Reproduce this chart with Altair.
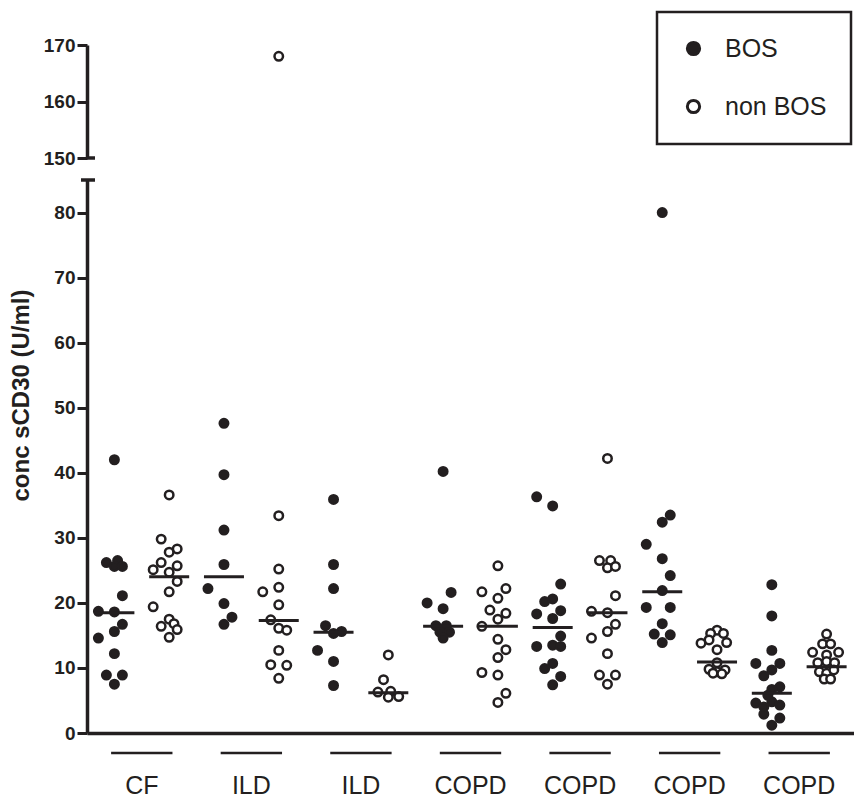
import altair as alt
import pandas as pd

INK = "#231f20"
FONT = "Liberation Sans"

# ---------------- data ----------------
groups = ["CF", "ILD", "ILD", "COPD", "COPD", "COPD", "COPD"]
status_names = ["BOS", "non BOS"]

# one list per column: col 2k = BOS (filled), col 2k+1 = non BOS (open)
values_by_col = [
    [42.0, 26.2, 26.5, 25.6, 25.6, 21.1, 18.7, 18.6, 16.7, 15.6, 14.6, 12.2, 8.9, 8.9, 7.5],
    [36.6, 29.8, 28.3, 27.8, 26.2, 25.7, 25.1, 24.7, 23.3, 21.7, 19.4, 17.5, 16.8, 16.4, 15.9, 14.7],
    [47.6, 39.7, 31.2, 25.9, 22.2, 19.9, 17.8, 16.7],
    [33.4, 25.2, 22.4, 21.7, 19.7, 17.4, 16.1, 15.8, 12.7, 10.5, 10.4, 8.4],
    [35.9, 25.9, 22.2, 16.5, 15.6, 15.3, 12.7, 11.0, 7.3],
    [12.0, 8.2, 6.3, 6.4, 5.5, 5.6],
    [40.2, 21.6, 20.0, 19.1, 16.5, 16.5, 15.5, 15.5, 14.6],
    [25.7, 22.2, 21.7, 20.7, 18.9, 18.4, 17.5, 16.4, 14.4, 12.8, 11.6, 9.3, 8.9, 6.1, 4.7],
    [36.3, 34.9, 22.9, 20.6, 20.2, 18.8, 18.3, 17.6, 14.9, 13.5, 13.3, 13.3, 10.7, 9.9, 8.7, 7.4],
    [42.2, 26.5, 26.5, 25.4, 25.6, 21.1, 18.7, 18.5, 16.7, 15.6, 14.6, 12.2, 8.9, 8.9, 7.5],
    [80.0, 33.5, 32.4, 29.0, 26.8, 24.2, 21.9, 19.3, 19.3, 16.8, 15.2, 15.1, 13.9],
    [15.8, 15.3, 15.3, 14.3, 13.9, 13.8, 12.8, 10.8, 9.8, 9.7, 9.4, 9.2, 9.1],
    [22.8, 18.0, 12.7, 10.7, 10.7, 9.7, 8.8, 7.1, 6.7, 5.8, 4.6, 4.8, 4.3, 4.0, 2.9, 2.3, 1.2],
    [15.2, 13.7, 13.7, 12.4, 12.4, 12.0, 11.0, 10.8, 10.8, 9.4, 9.2, 9.7, 8.3, 8.3],
]
# horizontal scatter of each dot, in dot-widths, as seen in the figure
jitter_by_col = [
    [0, -1, 0.4, 0, 1, 1, -2, 0, 1, 0, -2, 0, -1, 1, 0],
    [0, -1, 1, 0, -1, 1, -2, 0, 1, 0, -2, 0, 0.6, -1, 1, 0],
    [0, 0, 0, 0, -2, 0, 1, 0],
    [0, 0, 0, -2, 0, -1, 0, 1, 0, -1, 1, 0],
    [0, 0, 0, -1, 1, 0, -2, 0, 0],
    [0, -0.6, -1.3, 0.3, 0, 1.3],
    [0, 1, -2, 0, -0.9, 0.4, -0.4, 0.8, 0],
    [0, 1, -2, 0, -1, 1, 0, -2, 0, 1, 0, -2, 0, 1, 0],
    [-2, 0, 1, 0, -1, 1, -2, 0, 1, 0, -2, 1, 0, -1, 1, 0],
    [0, -1, 0.4, 0, 1, 1, -2, 0, 1, 0, -2, 0, -1, 1, 0],
    [0, 1, 0, -2, 0, 1, 0, -2, 1, 0, -1, 1, 0],
    [0, -0.8, 0.8, -1, 1.2, -2, 0, 0, -1, 1, 0, -0.5, 0.6],
    [0, 0, 0, -2, 1, 0, -1, 1, 0, -0.5, -2, 0, 1, -1, -1, 1, 0],
    [0, -0.5, 0.5, -1.75, 1.5, 0, 0, -1.1, 1, -0.9, 0, 0.9, -0.3, 0.5],
]
medians = [18.5, 24.0, 24.0, 17.3, 15.5, 6.2, 16.4, 16.4, 16.2, 18.5, 21.7, 10.9, 6.1, 10.2]

# the single value above the axis break
top_col = [3]
top_values = [168.0]
top_jitter = [0]

# ---------------- tables ----------------
rows = []
for c, (vals, jits) in enumerate(zip(values_by_col, jitter_by_col)):
    for v, j in zip(vals, jits):
        rows.append({"col": c, "status": status_names[c % 2], "value": v, "jit": j})
pts = pd.DataFrame(rows)
top_pts = pd.DataFrame({
    "col": top_col,
    "status": [status_names[c % 2] for c in top_col],
    "value": top_values,
    "jit": top_jitter,
})
med = pd.DataFrame({"col": list(range(len(medians))), "value": medians})
grp = pd.DataFrame({"label": groups, "start": [2 * i for i in range(len(groups))]})
dummy = pd.DataFrame({"k": [0]})

JIT = 0.146
XS = alt.Scale(domain=[-0.5, 13.5], nice=False, zero=False)
fill_scale = alt.Scale(domain=status_names, range=[INK, "#ffffff"])
point_kw = dict(size=72, stroke=INK, strokeWidth=2.5, opacity=1)

W = 767

# ---------------- top panel (150-170) ----------------
top_scale = alt.Scale(domain=[150, 170], nice=False, zero=False)
top_points = alt.Chart(top_pts).transform_calculate(
    x=f"datum.col + datum.jit * {JIT}"
).mark_circle(**point_kw).encode(
    x=alt.X("x:Q", scale=XS, axis=None),
    y=alt.Y("value:Q", scale=top_scale,
            axis=alt.Axis(values=[150, 160, 170], title=None)),
    fill=alt.Fill("status:N", scale=fill_scale,
                  legend=alt.Legend(orient="none", legendX=570, legendY=-33,
                                    title=None, padding=24, symbolOffset=0,
                                    labelOffset=19, rowPadding=32,
                                    labelFontSize=25, labelFont=FONT,
                                    labelColor=INK, symbolSize=150,
                                    symbolStrokeWidth=3, symbolStrokeColor=INK,
                                    symbolType="circle", strokeColor=INK,
                                    fillColor="white")),
)
top_cap = alt.Chart(dummy).mark_rule(color=INK, strokeWidth=3.5).encode(
    y=alt.datum(150), x=alt.value(0), x2=alt.value(8)
)
top = alt.layer(top_points, top_cap).properties(width=W, height=113)

# ---------------- bottom panel (0-85) ----------------
bot_scale = alt.Scale(domain=[0, 85], nice=False, zero=True)
bot_points = alt.Chart(pts).transform_calculate(
    x=f"datum.col + datum.jit * {JIT}"
).mark_circle(**point_kw).encode(
    x=alt.X("x:Q", scale=XS,
            axis=alt.Axis(labels=False, ticks=False, title=None, grid=False)),
    y=alt.Y("value:Q", scale=bot_scale,
            axis=alt.Axis(values=list(range(0, 81, 10)), title="conc sCD30 (U/ml)",
                          titleX=-66, titleY=215, titleBaseline="middle")),
    fill=alt.Fill("status:N", scale=fill_scale, legend=None),
)
med_ticks = alt.Chart(med).transform_calculate(x="datum.col").mark_tick(
    orient="horizontal", size=40, thickness=3, color=INK, opacity=1
).encode(x=alt.X("x:Q", scale=XS), y=alt.Y("value:Q", scale=bot_scale))

grp_rules = alt.Chart(grp).transform_calculate(
    x="datum.start - 0.06", x2="datum.start + 1.06"
).mark_rule(color=INK, strokeWidth=2.5).encode(
    x=alt.X("x:Q", scale=XS), x2="x2:Q", y=alt.value(573)
)
grp_text = alt.Chart(grp).transform_calculate(x="datum.start + 0.5").mark_text(
    font=FONT, fontSize=25, color=INK, baseline="middle", align="center"
).encode(x=alt.X("x:Q", scale=XS), y=alt.value(606), text="label:N")

bot_cap = alt.Chart(dummy).mark_rule(color=INK, strokeWidth=3.5).encode(
    x=alt.value(-6), x2=alt.value(8), y=alt.value(0)
)
bottom = alt.layer(bot_points, med_ticks, grp_rules, grp_text, bot_cap).properties(
    width=W, height=553
)

chart = alt.vconcat(top, bottom, spacing=22, bounds="flush").resolve_scale(
    fill="independent", x="shared"
).resolve_legend(fill="independent").properties(
    padding={"left": 9, "top": 10, "right": 0, "bottom": 0}
).configure_view(stroke=None).configure_axis(
    labelFont=FONT, labelFontSize=19, labelFontWeight="bold", labelColor=INK,
    labelPadding=2, tickColor=INK, tickWidth=3, tickSize=10,
    domainColor=INK, domainWidth=3.5, grid=False,
    titleFont=FONT, titleFontSize=24, titleFontWeight="bold", titleColor=INK,
).configure_legend(strokeWidth=2.5)

chart.save("out.html", embed_options={"renderer": "svg", "actions": False})
